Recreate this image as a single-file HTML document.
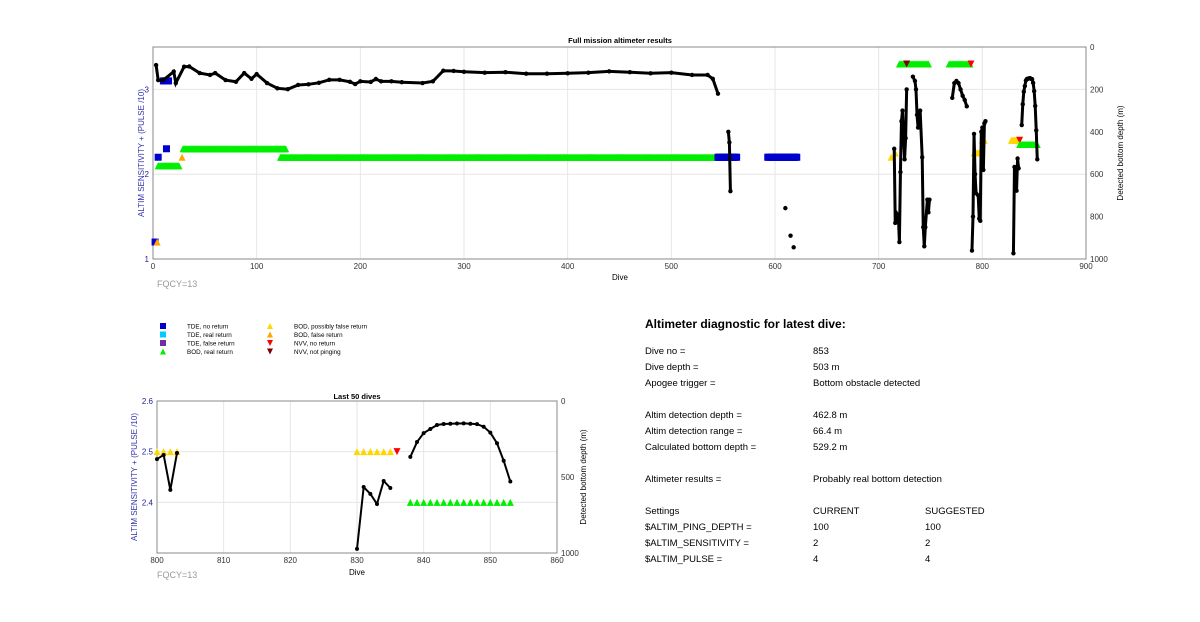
<!DOCTYPE html>
<html><head><meta charset="utf-8"><style>
body{margin:0;background:#fff;font-family:"Liberation Sans",sans-serif}
svg text{font-family:"Liberation Sans",sans-serif}
.t{position:absolute;font-size:9.5px;color:#000;white-space:nowrap}
</style></head><body>
<div style="position:relative;width:1200px;height:622px;overflow:hidden">
<svg id="s" width="1200" height="622" style="position:absolute;left:0;top:0"></svg>
<div id="diag"></div>
</div>
<script>
// ===== Top chart data =====
const mainDives=[3,5,10,20,22,30,35,45,55,60,70,80,88,95,100,110,120,130,140,150,160,170,180,190,195,200,210,215,220,230,240,260,270,280,290,300,320,340,360,380,400,420,440,460,480,500,520,535,540,545];
const mainDepth=[85,156,156,116,170,93,92,123,132,123,156,164,123,150,128,170,195,199,179,176,169,155,155,164,175,162,165,151,162,162,166,170,162,112,113,117,121,119,126,126,124,121,115,119,124,121,132,132,150,220];
const seg2Dives=[555,556,557];const seg2Depth=[400,450,680];
const isoDives=[610,615,618];const isoDepth=[760,890,945];
const seg3Dives=[715,716,718,719,720,721,722,723,724,725,726,727];const seg3Depth=[480,830,790,800,920,590,350,300,420,530,430,200];
const seg4Dives=[733,735,736,737,738,739,740,742,743,744,745,747,748,749];const seg4Depth=[140,160,200,320,380,310,300,520,850,940,850,720,780,720];
const seg5Dives=[771,773,775,777,779,781,783,785];const seg5Depth=[240,170,160,170,200,230,250,280];
const seg6Dives=[790,791,792,793,794,796,797,798,799,800,801,802,803];const seg6Depth=[960,800,410,600,690,700,810,820,400,380,580,360,350];
const seg7Dives=[830,831,832,833,834,835];const seg7Depth=[973,566,611,678,526,572];
const seg8Dives=[838,839,840,841,842,843,844,845,846,847,848,849,850,851,852,853];const seg8Depth=[368,270,211,184,158,151,150,148,147,150,152,169,208,278,393,530];
// marker runs: start, end, value, type
const runStart=[2,4,5,13,10,5,28,29,123,545,593,720,768,712,716,792,800,828,836,836,727,789];
const runEnd  =[2,4,5,13,15,25,28,128,545,563,621,748,788,712,716,798,802,834,836,853,727,789];
const runValue=[1.2,1.2,2.2,2.3,3.1,2.1,2.2,2.3,2.2,2.2,2.2,3.3,3.3,2.2,2.25,2.25,2.4,2.4,2.4,2.35,3.3,3.3];
const runType =['tq','bof','tq','tq','tq','bor','bof','bor','bor','tq','tq','bor','bor','bpf','bpf','bpf','bpf','bpf','nvv','bor','nvp','nvv'];
const topXTicks=[0,100,200,300,400,500,600,700,800,900];
const topYTicks=[1,2,3];const topRTicks=[0,200,400,600,800,1000];
// ===== Bottom chart data =====
const botDives=[800,801,802,803];const botDepth=[382,355,585,342];
const bot2Dives=[830,831,832,833,834,835];const bot2Depth=[973,566,611,678,526,572];
const bot3Dives=[838,839,840,841,842,843,844,845,846,847,848,849,850,851,852,853];const bot3Depth=[368,270,211,184,158,151,150,148,147,150,152,169,208,278,393,530];
const bRunStart=[800,830,836,838];const bRunEnd=[803,835,836,853];const bRunValue=[2.5,2.5,2.5,2.4];const bRunType=['bpf','bpf','nvv','bor'];
const botXTicks=[800,810,820,830,840,850,860];const botYTicks=[2.4,2.5,2.6];const botRTicks=[0,500,1000];

const NS='http://www.w3.org/2000/svg';const S=document.getElementById('s');
function el(tag,at,parent){const e=document.createElementNS(NS,tag);for(const k in at)e.setAttribute(k,at[k]);(parent||S).appendChild(e);return e;}
function txt(x,y,s,at){const e=el('text',Object.assign({x:x,y:y,'font-size':8},at||{}));e.textContent=s;return e;}
const COL={tq:'#0000cc',tr:'#00ccff',tf:'#7030a0',bor:'#00ee00',bpf:'#ffd700',bof:'#ffa500',nvv:'#ff0000',nvp:'#800000'};
function marker(g,x,y,type,sz){
  if(type[0]==='t'){const r=el('rect',{x:x-sz/2,y:y-sz/2,width:sz,height:sz,fill:COL[type]},g);}
  else if(type[0]==='n'){const p=el('polygon',{points:`${x-sz/2},${y-sz/2} ${x+sz/2},${y-sz/2} ${x},${y+sz/2}`,fill:COL[type]},g);}
  else{const p=el('polygon',{points:`${x-sz/2},${y+sz/2} ${x+sz/2},${y+sz/2} ${x},${y-sz/2}`,fill:COL[type]},g);}
}
function chart(o){
  const g=el('g',{});
  const X=v=>o.x0+(v-o.xmin)/(o.xmax-o.xmin)*(o.x1-o.x0);
  const YL=v=>o.y1-(v-o.lmin)/(o.lmax-o.lmin)*(o.y1-o.y0);
  const YR=v=>o.y0+v/1000*(o.y1-o.y0);
  el('rect',{x:o.x0,y:o.y0,width:o.x1-o.x0,height:o.y1-o.y0,fill:'#fff',stroke:'#888','stroke-width':1},g);
  o.xt.forEach(v=>{const x=X(v);el('line',{x1:x,x2:x,y1:o.y0,y2:o.y1,stroke:'#e6e6e6'},g);const t=txt(x,o.y1+10,String(v),{'text-anchor':'middle',fill:'#333','font-size':8});g.appendChild(t);});
  o.yt.forEach(v=>{const y=YL(v);el('line',{x1:o.x0,x2:o.x1,y1:y,y2:y,stroke:'#e6e6e6'},g);const t=txt(o.x0-4,y+3,String(v),{'text-anchor':'end',fill:'#22229a','font-size':8});g.appendChild(t);});
  o.rt.forEach(v=>{const y=YR(v);const t=txt(o.x1+4,y+3,String(v),{fill:'#333','font-size':8});g.appendChild(t);});
  el('rect',{x:o.x0,y:o.y0,width:o.x1-o.x0,height:o.y1-o.y0,fill:'none',stroke:'#888'},g);
  o.runs.s.forEach((st,i)=>{for(let d=st;d<=o.runs.e[i];d++)marker(g,X(d),YL(o.runs.v[i]),o.runs.t[i],o.msz);});
  o.segs.forEach(sg=>{const pts=sg[0].map((d,i)=>X(d)+','+YR(sg[1][i])).join(' ');
    if(sg[2]!=='iso'){const l=el('polyline',{points:pts,fill:'none',stroke:'#000','stroke-width':o.lw},g);}
    sg[0].forEach((d,i)=>{const c=el('circle',{cx:X(d),cy:YR(sg[1][i]),r:o.mr,fill:'#000'},g);});});
}
chart({name:'full-mission-chart',x0:153,x1:1086,y0:47,y1:259,xmin:0,xmax:900,lmin:1,lmax:3.5,xt:topXTicks,yt:topYTicks,rt:topRTicks,msz:7,lw:3,mr:2.2,
  runs:{s:runStart,e:runEnd,v:runValue,t:runType},
  segs:[[mainDives,mainDepth],[seg2Dives,seg2Depth],[isoDives,isoDepth,'iso'],[seg3Dives,seg3Depth],[seg4Dives,seg4Depth],[seg5Dives,seg5Depth],[seg6Dives,seg6Depth],[seg7Dives,seg7Depth],[seg8Dives,seg8Depth]]});
chart({name:'last-50-chart',x0:157,x1:557,y0:401,y1:553,xmin:800,xmax:860,lmin:2.3,lmax:2.6,xt:botXTicks,yt:botYTicks,rt:botRTicks,msz:7,lw:2,mr:2,
  runs:{s:bRunStart,e:bRunEnd,v:bRunValue,t:bRunType},
  segs:[[botDives,botDepth],[bot2Dives,bot2Depth],[bot3Dives,bot3Depth]]});
function lab(x,y,s,name,at){const t=txt(x,y,s,at);}
lab(620,43,'Full mission altimeter results','chart-title',{'text-anchor':'middle','font-weight':'bold','font-size':7.5});
lab(620,280,'Dive','x-axis-title',{'text-anchor':'middle','font-size':8});
lab(157,287,'FQCY=13','fqcy-label',{fill:'#999','font-size':9});
lab(0,0,'ALTIM SENSITIVITY + (PULSE /10)','y-axis-title',{fill:'#3333aa','font-size':8,'text-anchor':'middle',transform:'translate(144,153) rotate(-90)'});
lab(0,0,'Detected bottom depth (m)','right-axis-title',{fill:'#000','font-size':8,'text-anchor':'middle',transform:'translate(1123,153) rotate(-90)'});
lab(357,399,'Last 50 dives','chart-title-bottom',{'text-anchor':'middle','font-weight':'bold','font-size':7.5});
lab(357,575,'Dive','x-axis-title-bottom',{'text-anchor':'middle','font-size':8});
lab(157,578,'FQCY=13','fqcy-label-bottom',{fill:'#999','font-size':9});
lab(0,0,'ALTIM SENSITIVITY + (PULSE /10)','y-axis-title-bottom',{fill:'#3333aa','font-size':8,'text-anchor':'middle',transform:'translate(137,477) rotate(-90)'});
lab(0,0,'Detected bottom depth (m)','right-axis-title-bottom',{fill:'#000','font-size':8,'text-anchor':'middle',transform:'translate(586,477) rotate(-90)'});
const legT=['TDE, no return','TDE, real return','TDE, false return','BOD, real return','BOD, possibly false return','BOD, false return','NVV, no return','NVV, not pinging'];
const legK=['tq','tr','tf','bor','bpf','bof','nvv','nvp'];
const lg=el('g',{});
legK.forEach((k,i)=>{const col=i<4?0:1;const r=i%4;const x=col?270:163,y=326+r*8.5;marker(lg,x,y,k,6);const t=txt(x+24,y+2.5,legT[i],{'font-size':6.3});lg.appendChild(t);});
const rows=[[352,'Dive no =','853',''],[368,'Dive depth =','503 m',''],[384,'Apogee trigger =','Bottom obstacle detected',''],[416,'Altim detection depth =','462.8 m',''],[432,'Altim detection range =','66.4 m',''],[448,'Calculated bottom depth =','529.2 m',''],[480,'Altimeter results =','Probably real bottom detection',''],[512,'Settings','CURRENT','SUGGESTED'],[528,'$ALTIM_PING_DEPTH =','100','100'],[544,'$ALTIM_SENSITIVITY =','2','2'],[560,'$ALTIM_PULSE =','4','4']];
const D=document.getElementById('diag');
function div(x,y,s,name,fs,bold){const d=document.createElement('div');d.className='t';d.style.left=x+'px';d.style.top=y+'px';if(fs)d.style.fontSize=fs+'px';if(bold)d.style.fontWeight='bold';d.textContent=s;D.appendChild(d);}
div(645,317,'Altimeter diagnostic for latest dive:','diagnostic-title',12,true);
rows.forEach(r=>{div(645,r[0]-6,r[1],'diag-label');div(813,r[0]-6,r[2],'diag-value');if(r[3])div(925,r[0]-6,r[3],'diag-suggested');});
</script>
</body></html>
